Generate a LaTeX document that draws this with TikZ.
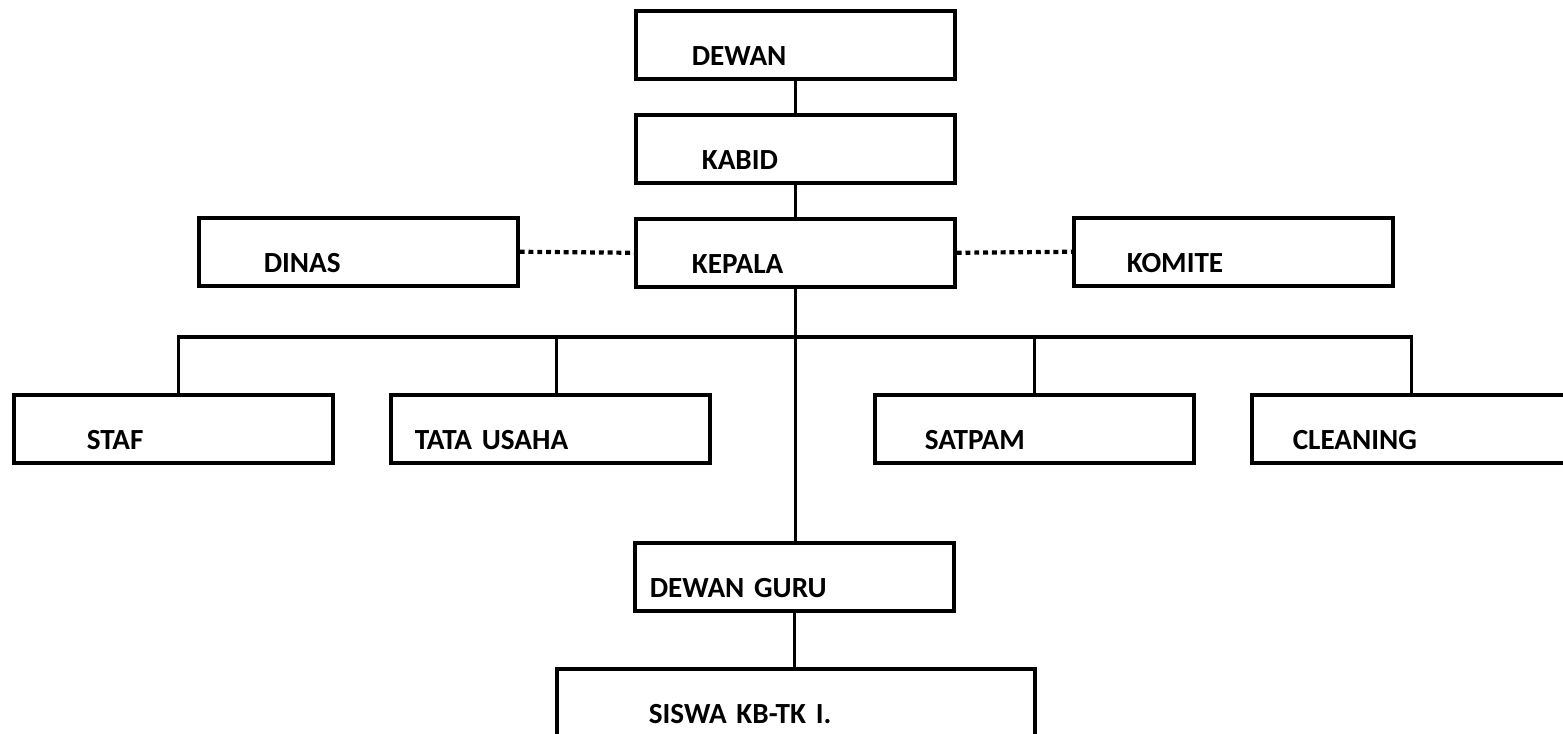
\documentclass[tikz,border=0pt]{standalone}
\usepackage{fontspec}
\setmainfont{Carlito}

\begin{document}
\begin{tikzpicture}[x=0.01cm, y=-0.01cm,
  unit/.style={draw, line width=1pt, anchor=north west, inner sep=0pt,
    text width=#1, text height=0.55cm, text depth=0.13cm, align=left,
    font=\fontsize{8.3}{10}\selectfont\bfseries},
  unit/.default=3.19cm,
  link/.style={line width=1pt},
  tie/.style={line width=1.2pt, dash pattern=on 1.4pt off 1.1pt}]
  % page frame, 1 unit = 1 px of the chart
  \clip (0,0) rectangle (1563,734);
  % top chain
  \node[unit] (dewan)  at (634,9)   {\hspace*{0.56cm}DEWAN};
  \node[unit] (kabid)  at (634,113) {\hspace*{0.66cm}KABID};
  \node[unit] (kepala) at (634,217) {\hspace*{0.56cm}KEPALA};
  % partners left and right
  \node[unit] (dinas)  at (197,216)  {\hspace*{0.65cm}DINAS};
  \node[unit] (komite) at (1072,216) {\hspace*{0.53cm}KOMITE};
  % support row
  \node[unit] (staf)   at (12,393)   {\hspace*{0.73cm}STAF};
  \node[unit] (tu)     at (389,393)  {\hspace*{0.24cm}TATA USAHA};
  \node[unit] (satpam) at (873,393)  {\hspace*{0.50cm}SATPAM};
  \node[unit] (clean)  at (1250,393) {\hspace*{0.41cm}CLEANING};
  % teachers and pupils
  \node[unit] (guru)  at (633,541) {\hspace*{0.15cm}DEWAN GURU};
  \node[unit=4.78cm] (siswa) at (555,667) {\hspace*{0.92cm}SISWA KB-TK I.};
  % lines
  \draw[link] (dewan.south) -- (kabid.north);
  \draw[link] (kabid.south) -- (kepala.north);
  \draw[tie] (dinas.east) -- (kepala.west);
  \draw[tie] (kepala.east) -- (komite.west);
  \draw[link] (kepala.south) -- (kepala.south |- guru.north);
  \coordinate (bus) at (793,337);
  \coordinate (staftop) at ([xshift=0.05cm]staf.north);
  \coordinate (tutop) at ([xshift=0.06cm]tu.north);
  \draw[link] (staftop) |- (bus) -| (clean.north);
  \draw[link] (tutop) -- (tutop |- bus);
  \draw[link] (satpam.north) -- (satpam.north |- bus);
  \draw[link] (guru.south) -- (guru.south |- siswa.north);
\end{tikzpicture}
\end{document}
